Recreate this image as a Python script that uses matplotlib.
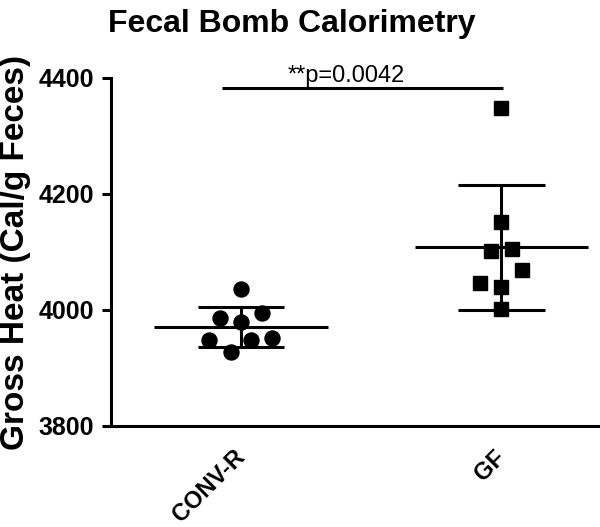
import numpy as np
import matplotlib
matplotlib.use("Agg")
import matplotlib.pyplot as plt

plt.rcParams['font.family'] = ['Liberation Sans', 'DejaVu Sans']

# Datos
grupos = ['CONV-R', 'GF']
conv_r = [4036, 3986, 3994, 3980, 3949, 3948, 3951, 3928]
gf = [4152, 4102, 4105, 4069, 4046, 4040, 4001, 4348]
titulo = 'Fecal Bomb Calorimetry'
etiqueta_y = 'Gross Heat (Cal/g Feces)'
texto_p = '**p=0.0042'
marcas_y = [3800, 4000, 4200, 4400]

# desplazamiento horizontal de los puntos (como lo hace Prism)
jitter_conv = [0, -0.081, 0.08, 0, -0.122, 0.038, 0.118, -0.04]
jitter_gf = [0, -0.041, 0.041, 0.081, -0.081, 0, 0, 0]

fig = plt.figure(figsize=(6, 5.27), dpi=100)
ax = fig.add_axes([111 / 600, 101 / 527, 488 / 600, 348 / 527])

lw = 2.2
series = [(conv_r, jitter_conv, 'o', 10.8), (gf, jitter_gf, 's', 10)]
for i, (vals, jit, mk, ms) in enumerate(series):
    vals = np.array(vals)
    media = vals.mean()
    sd = vals.std(ddof=1)
    ax.hlines(media, i - 0.333, i + 0.333, color='black', lw=lw, zorder=2)
    ax.hlines([media - sd, media + sd], i - 0.166, i + 0.166, color='black', lw=lw, zorder=2)
    ax.vlines(i, media - sd, media + sd, color='black', lw=lw, zorder=2)
    ax.plot(i + np.array(jit), vals, linestyle='none', marker=mk, markersize=ms,
            color='black', zorder=3, clip_on=False)

# barra de significancia
ax.hlines(4382, -0.073, 1.006, color='black', lw=lw, clip_on=False)
ax.text(0.405, 4393, texto_p, ha='center', va='baseline', fontsize=17, clip_on=False)

ax.set_xlim(-0.5, 1.375)
ax.set_ylim(3800, 4400)
ax.set_yticks(marcas_y)
ax.set_xticks(range(len(grupos)))
ax.set_xticklabels(grupos, rotation=45, ha='right', va='center', rotation_mode='anchor',
                   fontsize=17, fontweight='bold')
ax.tick_params(axis='x', length=0, pad=20)
ax.tick_params(axis='y', length=6.5, width=lw, pad=5.8, labelsize=18)
for lab in ax.get_yticklabels():
    lab.set_fontweight('bold')

for s in ['top', 'right']:
    ax.spines[s].set_visible(False)
for s in ['left', 'bottom']:
    ax.spines[s].set_linewidth(lw)

ax.set_ylabel(etiqueta_y, fontsize=24, fontweight='bold')
ax.yaxis.set_label_coords(31 / 600, 1 - 252.5 / 527, transform=fig.transFigure)
fig.text(291.5 / 600, 1 - 32 / 527, titulo, ha='center', va='baseline',
         fontsize=23, fontweight='bold')

plt.savefig('out.png', dpi=100)
